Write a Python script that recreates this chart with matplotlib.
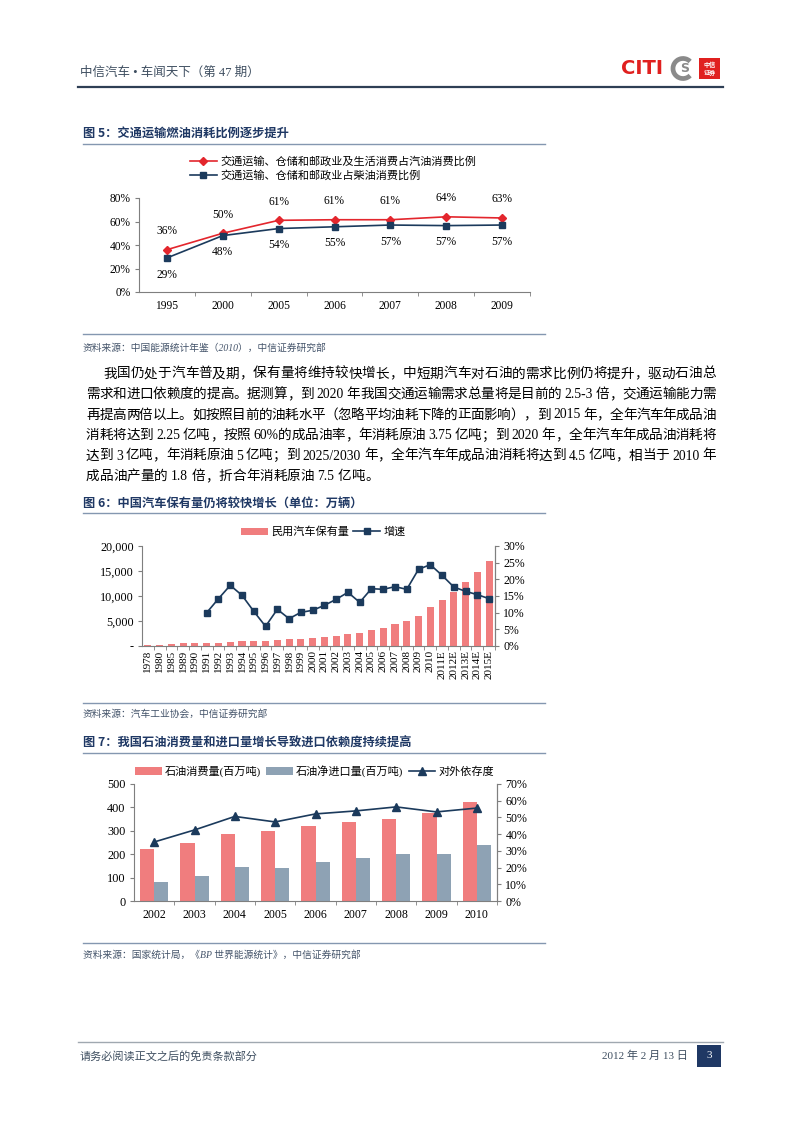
import re
import numpy as np
import matplotlib
matplotlib.use("Agg")
import matplotlib.pyplot as plt
from matplotlib.lines import Line2D
from matplotlib.patches import Rectangle, Arc

# ---------------- data ----------------
fig5_years = ["1995", "2000", "2005", "2006", "2007", "2008", "2009"]
fig5_gasoline = [36, 50, 61, 61.5, 61.5, 64, 63]
fig5_gasoline_lbl = ["36%", "50%", "61%", "61%", "61%", "64%", "63%"]
fig5_diesel = [29, 48, 54, 55.5, 57, 56.5, 57]
fig5_diesel_lbl = ["29%", "48%", "54%", "55%", "57%", "57%", "57%"]
fig5_legend = ["交通运输、仓储和邮政业及生活消费占汽油消费比例", "交通运输、仓储和邮政业占柴油消费比例"]

fig6_years = ["1978", "1980", "1985", "1989", "1990", "1991", "1992", "1993", "1994", "1995",
              "1996", "1997", "1998", "1999", "2000", "2001", "2002", "2003", "2004", "2005",
              "2006", "2007", "2008", "2009", "2010", "2011E", "2012E", "2013E", "2014E", "2015E"]
fig6_stock = [136, 178, 321, 511, 551, 606, 692, 817, 942, 1040,
              1100, 1219, 1319, 1453, 1609, 1802, 2053, 2383, 2694, 3160,
              3600, 4358, 5100, 6100, 7750, 9300, 10900, 12800, 14800, 17000]
fig6_growth = [np.nan, np.nan, np.nan, np.nan, np.nan, 10.0, 14.2, 18.2, 15.2, 10.4,
               5.9, 11.0, 8.2, 10.1, 10.7, 12.2, 14.0, 16.1, 13.1, 17.2,
               17.0, 17.8, 17.0, 23.0, 24.4, 21.2, 17.7, 16.4, 15.4, 14.2]
fig6_legend = ["民用汽车保有量", "增速"]

fig7_years = ["2002", "2003", "2004", "2005", "2006", "2007", "2008", "2009", "2010"]
fig7_consumption = [222, 248, 288, 299, 321, 339, 352, 377, 424]
fig7_import = [82, 107, 146, 142, 168, 184, 200, 200, 240]
fig7_dependency = [35.3, 42.5, 50.6, 47.3, 52.1, 53.9, 56.3, 53.3, 55.6]
fig7_legend = ["石油消费量(百万吨)", "石油净进口量(百万吨)", "对外依存度"]

paragraph = [
    "我国仍处于汽车普及期，保有量将维持较快增长，中短期汽车对石油的需求比例仍将提升，驱动石油总",
    "需求和进口依赖度的提高。据测算，到 2020 年我国交通运输需求总量将是目前的 2.5-3 倍，交通运输能力需",
    "再提高两倍以上。如按照目前的油耗水平（忽略平均油耗下降的正面影响），到 2015 年，全年汽车年成品油",
    "消耗将达到 2.25 亿吨，按照 60%的成品油率，年消耗原油 3.75 亿吨；到 2020 年，全年汽车年成品油消耗将",
    "达到 3 亿吨，年消耗原油 5 亿吨；到 2025/2030 年，全年汽车年成品油消耗将达到 4.5 亿吨，相当于 2010 年",
    "成品油产量的 1.8 倍，折合年消耗原油 7.5 亿吨。",
]

# ---------------- style ----------------
W, H = 802, 1133
MIX = ["Liberation Serif", "Noto Sans CJK SC"]
SANS = ["Noto Sans CJK SC", "DejaVu Sans"]
plt.rcParams["font.family"] = MIX
NAVY = "#1B3A5C"
RED = "#E3262D"
BARRED = "#F07D7E"
BARGRAY = "#8EA2B4"
SPINE = "#7F7F7F"
TITLE = "#1F3864"
SRC = "#44546A"

fig = plt.figure(figsize=(W / 100, H / 100), dpi=100)


def fx(x):
    return x / W


def fy(y):
    return 1 - y / H


def hline(x0, x1, y, color, lw):
    fig.add_artist(Line2D([fx(x0), fx(x1)], [fy(y), fy(y)], color=color, lw=lw))


def add_axes(l, r, t, b):
    return fig.add_axes([fx(l), fy(b), (r - l) / W, (b - t) / H])


def style_ax(ax, n, right=False):
    for s in ["top"] + ([] if right else ["right"]):
        ax.spines[s].set_visible(False)
    for s in ["left", "bottom", "right"]:
        ax.spines[s].set_color(SPINE)
        ax.spines[s].set_linewidth(0.8)
    ax.set_xlim(-0.5, n - 0.5)
    ax.set_xticks(range(n))
    ax.set_xticks(np.arange(0.5, n, 1.0), minor=True)
    ax.tick_params(axis="x", which="major", length=0, pad=6)
    ax.tick_params(axis="x", which="minor", length=3, color=SPINE, direction="out")
    ax.tick_params(axis="y", length=3, color=SPINE, direction="out", pad=3)


# ---------------- page header ----------------
fig.text(fx(80), fy(73), "中信汽车 • 车闻天下（第 47 期）", fontsize=9, color="#3E4E60",
         va="center", family=MIX)
hline(78, 723, 87, "#2E3F55", 1.6)
fig.text(fx(621), fy(69), "CITI", fontsize=14, fontweight="bold", color="#E0201F",
         va="center", family=["DejaVu Sans"])
fig.add_artist(Arc((fx(683), fy(68.5)), 20 / W, 20 / H, theta1=35, theta2=325,
                   transform=fig.transFigure, edgecolor="#8A8A8A", lw=3.4))
fig.text(fx(685), fy(69), "S", fontsize=9, fontweight="bold", color="#8A8A8A",
         ha="center", va="center", family=["DejaVu Sans"])
fig.add_artist(Rectangle((fx(699), fy(79)), 21 / W, 21 / H, transform=fig.transFigure,
                         facecolor="#E0201F", edgecolor="none"))
fig.text(fx(709.5), fy(68.5), "中信\n证券", fontsize=4.4, color="white", ha="center", va="center",
         family=SANS, linespacing=1.0, fontweight="bold")

# ---------------- Figure 5 ----------------
fig.text(fx(83), fy(133), "图 5：交通运输燃油消耗比例逐步提升", fontsize=8.8, fontweight="bold",
         color=TITLE, va="center", family=SANS)
hline(83, 545, 144, "#8497B0", 1.0)
hline(83, 545, 334, "#8497B0", 1.0)
fig.text(fx(83), fy(348), "资料来源：中国能源统计年鉴（2010），中信证券研究部", fontsize=7,
         color=SRC, va="center", style="italic", family=MIX)

ax5 = add_axes(139, 530, 198, 292)
n5 = len(fig5_years)
x5 = np.arange(n5)
ax5.plot(x5, fig5_gasoline, color=RED, lw=1.2, marker="D", markersize=4.2, label=fig5_legend[0])
ax5.plot(x5, fig5_diesel, color=NAVY, lw=1.2, marker="s", markersize=4.5, label=fig5_legend[1])
for i in range(n5):
    ax5.annotate(fig5_gasoline_lbl[i], (x5[i], fig5_gasoline[i]), xytext=(0, 13.5),
                 textcoords="offset points", ha="center", va="center", fontsize=8.3)
    ax5.annotate(fig5_diesel_lbl[i], (x5[i], fig5_diesel[i]), xytext=(0, -12),
                 textcoords="offset points", ha="center", va="center", fontsize=8.3)
ax5.set_ylim(0, 80)
ax5.set_yticks(range(0, 81, 20))
ax5.set_yticklabels([f"{v}%" for v in range(0, 81, 20)])
style_ax(ax5, n5)
ax5.set_xticklabels(fig5_years)
ax5.tick_params(labelsize=8.3)
ax5.legend(loc="upper left", bbox_to_anchor=(fx(190), fy(156.5)), bbox_transform=fig.transFigure,
           frameon=False, handlelength=2.4, handletextpad=0.3, labelspacing=0.3,
           borderpad=0, borderaxespad=0, prop={"family": MIX, "size": 8})

# ---------------- paragraph ----------------
PFS = 9.8
renderer = fig.canvas.get_renderer()
space_w = PFS * 100 / 72 * 0.25


def draw_line(text, x0, x1, yc, justify=True):
    tokens = re.findall(r"[A-Za-z0-9.%/\-]+| |[^ ]", text)
    objs = []
    widths = []
    for tok in tokens:
        if tok == " ":
            objs.append(None)
            widths.append(space_w)
        else:
            t = fig.text(0, 0, tok, fontsize=PFS, family=MIX, va="baseline", ha="left")
            bb = t.get_window_extent(renderer)
            objs.append(t)
            widths.append(bb.width)
    total = sum(widths)
    extra = (x1 - x0 - total) / (len(tokens) - 1) if justify else 0.0
    x = x0
    for t, w in zip(objs, widths):
        if t is not None:
            t.set_position((fx(x), fy(yc + 4.5)))
        x += w + extra


line_y = [373, 393.5, 414, 434.5, 455, 475.5]
for i, txt in enumerate(paragraph):
    x0 = 103 if i == 0 else 86
    draw_line(txt, x0, 716, line_y[i], justify=(i < len(paragraph) - 1))

# ---------------- Figure 6 ----------------
fig.text(fx(83), fy(503), "图 6：中国汽车保有量仍将较快增长（单位：万辆）", fontsize=8.8,
         fontweight="bold", color=TITLE, va="center", family=SANS)
hline(83, 545, 513, "#8497B0", 1.0)
hline(83, 545, 703, "#8497B0", 1.0)
fig.text(fx(83), fy(714), "资料来源：汽车工业协会，中信证券研究部", fontsize=7,
         color=SRC, va="center", style="italic", family=MIX)

ax6 = add_axes(142, 495, 546, 646)
n6 = len(fig6_years)
x6 = np.arange(n6)
b6 = ax6.bar(x6, fig6_stock, width=0.6, color=BARRED, label=fig6_legend[0])
ax6.set_ylim(0, 20000)
ax6.set_yticks(range(0, 20001, 5000))
ax6.set_yticklabels(["-", "5,000", "10,000", "15,000", "20,000"])
style_ax(ax6, n6, right=True)
ax6.set_xticklabels(fig6_years, rotation=90, fontsize=8)
ax6.tick_params(axis="x", which="major", pad=3)
ax6.tick_params(axis="y", labelsize=8.7)
ax6b = ax6.twinx()
l6, = ax6b.plot(x6, fig6_growth, color=NAVY, lw=1.2, marker="s", markersize=4.6, label=fig6_legend[1])
ax6b.set_ylim(0, 30)
ax6b.set_yticks(range(0, 31, 5))
ax6b.set_yticklabels([f"{v}%" for v in range(0, 31, 5)])
for s in ["top", "left", "bottom"]:
    ax6b.spines[s].set_visible(False)
ax6b.spines["right"].set_color(SPINE)
ax6b.spines["right"].set_linewidth(0.8)
ax6b.tick_params(axis="y", length=3, color=SPINE, labelsize=8.5, pad=3)
ax6b.legend([b6, l6], fig6_legend, loc="center left", bbox_to_anchor=(fx(241), fy(532)),
            bbox_transform=fig.transFigure, ncol=2, frameon=False, handlelength=2.4,
            handletextpad=0.3, columnspacing=0.4, borderpad=0, borderaxespad=0,
            prop={"family": MIX, "size": 8})

# ---------------- Figure 7 ----------------
fig.text(fx(83), fy(743), "图 7：我国石油消费量和进口量增长导致进口依赖度持续提高", fontsize=8.8,
         fontweight="bold", color=TITLE, va="center", family=SANS)
hline(83, 545, 753, "#8497B0", 1.0)
hline(83, 545, 943, "#8497B0", 1.0)
fig.text(fx(83), fy(955), "资料来源：国家统计局，《BP 世界能源统计》，中信证券研究部", fontsize=7,
         color=SRC, va="center", style="italic", family=MIX)

ax7 = add_axes(134, 497, 784, 901)
n7 = len(fig7_years)
x7 = np.arange(n7)
b7a = ax7.bar(x7 - 0.175, fig7_consumption, width=0.35, color=BARRED, label=fig7_legend[0])
b7b = ax7.bar(x7 + 0.175, fig7_import, width=0.35, color=BARGRAY, label=fig7_legend[1])
ax7.set_ylim(0, 500)
ax7.set_yticks(range(0, 501, 100))
style_ax(ax7, n7, right=True)
ax7.set_xticklabels(fig7_years, fontsize=8.6)
ax7.tick_params(axis="y", labelsize=8.8)
ax7b = ax7.twinx()
l7, = ax7b.plot(x7, fig7_dependency, color=NAVY, lw=1.2, marker="^", markersize=5.5, label=fig7_legend[2])
ax7b.set_ylim(0, 70)
ax7b.set_yticks(range(0, 71, 10))
ax7b.set_yticklabels([f"{v}%" for v in range(0, 71, 10)])
for s in ["top", "left", "bottom"]:
    ax7b.spines[s].set_visible(False)
ax7b.spines["right"].set_color(SPINE)
ax7b.spines["right"].set_linewidth(0.8)
ax7b.tick_params(axis="y", length=3, color=SPINE, labelsize=8.6, pad=3)
ax7b.legend([b7a, b7b, l7], fig7_legend, loc="center left", bbox_to_anchor=(fx(135), fy(771)),
            bbox_transform=fig.transFigure, ncol=3, frameon=False, handlelength=2.4,
            handletextpad=0.25, columnspacing=0.5, borderpad=0, borderaxespad=0,
            prop={"family": MIX, "size": 8})

# ---------------- footer ----------------
hline(78, 723, 1042, "#A0A8B0", 1.0)
fig.text(fx(80), fy(1056), "请务必阅读正文之后的免责条款部分", fontsize=8, color="#3E4E60",
         va="center", family=MIX)
fig.text(fx(688), fy(1056), "2012 年 2 月 13 日", fontsize=8, color="#3E4E60",
         va="center", ha="right", family=MIX)
fig.add_artist(Rectangle((fx(697), fy(1067)), 24 / W, 22 / H, transform=fig.transFigure,
                         facecolor="#1F3864", edgecolor="none"))
fig.text(fx(709), fy(1055), "3", fontsize=8, color="white", ha="center", va="center", family=MIX)

fig.savefig("out.png", dpi=100)
